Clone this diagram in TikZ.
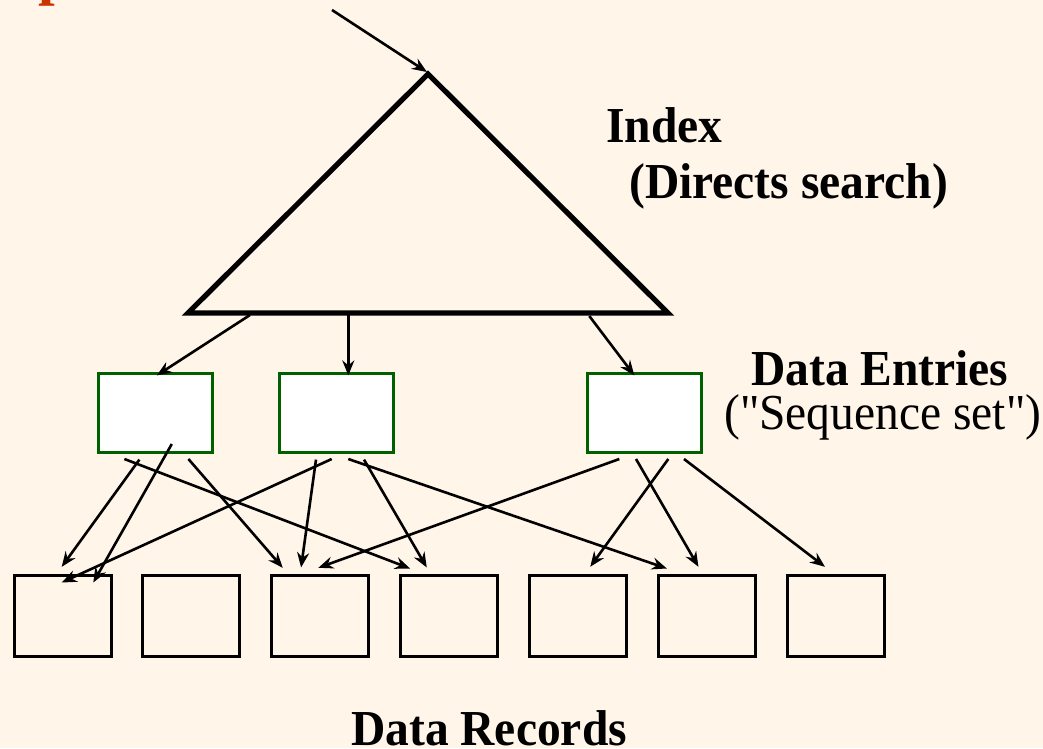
\documentclass[tikz,border=0pt]{standalone}
\usepackage{fontspec}
\setmainfont{Liberation Serif}[Ligatures=TeXOff]
\usetikzlibrary{arrows.meta,calc}
\definecolor{bgcream}{RGB}{255,245,232}
\definecolor{entrygreen}{RGB}{0,96,0}
\definecolor{titlered}{RGB}{204,51,0}
\newcommand{\tallbox}[1]{\scalebox{1}[1.06]{#1}}

\begin{document}
\begin{tikzpicture}[x=1pt,y=-1pt,
        entry/.style={draw=entrygreen, fill=white, line width=3pt, minimum width=114pt, minimum height=79pt, inner sep=0pt},
        record/.style={draw=black, line width=3pt, minimum width=97pt, minimum height=81pt, inner sep=0pt},
        ptr/.style={line width=2.6pt, -{Stealth[length=15pt,width=12pt,inset=5pt]}},
        lbl/.style={anchor=base west, inner sep=0pt, font=\fontsize{47.5}{56}\selectfont},
        lblb/.style={lbl, font=\fontsize{47.5}{56}\selectfont\bfseries}]
        \fill[bgcream] (0,0) rectangle (1043,748);                          % Фон
        \useasboundingbox (0,0) rectangle (1043,748);

        % Обрезанный заголовок
        \node[anchor=base west, inner sep=0pt, text=titlered, font=\fontsize{60}{64}\selectfont\bfseries] (title) at (38,-6.6) {p};

        % Индекс (треугольник)
        \coordinate (apex) at (428,74);
        \coordinate (bl) at (188,313);
        \coordinate (br) at (668,313);
        \coordinate (entry) at (332,10);
        \draw[line width=5.2pt] (apex) -- (br) -- (bl) -- cycle;
        \draw[ptr] (entry) -- ($(apex)+(-1,-2)$);

        % Записи данных
        \foreach \i in {1,...,7} \node[record] (r\i) at ({62.5+128.93*(\i-1)},615.5) {};

        % Элементы данных
        \node[entry] (e1) at (155,413) {};
        \node[entry] (e2) at (336.7,413) {};
        \node[entry] (e3) at (644,413) {};

        % Стрелки от индекса
        \draw[ptr] ($(bl)+(62,2)$) -- ($(e1.north)+(1.8,3.4)$);
        \draw[ptr] ($(bl)+(160.3,2)$) -- ($(e2.north)+(11.6,3.4)$);
        \draw[ptr] ($(bl)+(401.3,3)$) -- ($(e3.north)+(-9.7,3.4)$);

        % Стрелки к записям
        \foreach \s/\dx/\dy/\t/\ex/\ey in {e1/-30.6/5/r4/-39.2/-5, e1/-15.6/5.6/r1/-0.8/-6.7,
                e1/16.8/-10/r1/30.8/9, e1/33.4/5/r3/-37.6/-5.7,
                e2/-5/5/r1/-0.8/9, e2/-20.7/5.6/r3/-19.3/-6,
                e2/27.3/5.6/r4/-22.5/-6, e2/11.6/5/r6/-40.3/-5,
                e3/-24.7/5/r3/-2/-5.7, e3/24.3/5/r5/12/-6.7,
                e3/-8/5/r6/-8.7/-6.7, e3/40/5/r7/-11.1/-6.7}
            \draw[ptr] ($(\s.south)+(\dx,\dy)$) -- ($(\t.north)+(\ex,\ey)$);

        % Подписи
        \node[lblb] (index) at (606,142) {\tallbox{Index}};
        \node[lblb] (search) at (629,198) {\tallbox{(Directs search)}};
        \node[lblb] (entries) at (751,385) {\tallbox{Data Entries}};
        \node[lbl] (seqset) at (724,429) {\tallbox{("Sequence set")}};
        \node[lblb] (records) at (351,745) {\tallbox{Data Records}};
\end{tikzpicture}
\end{document}
